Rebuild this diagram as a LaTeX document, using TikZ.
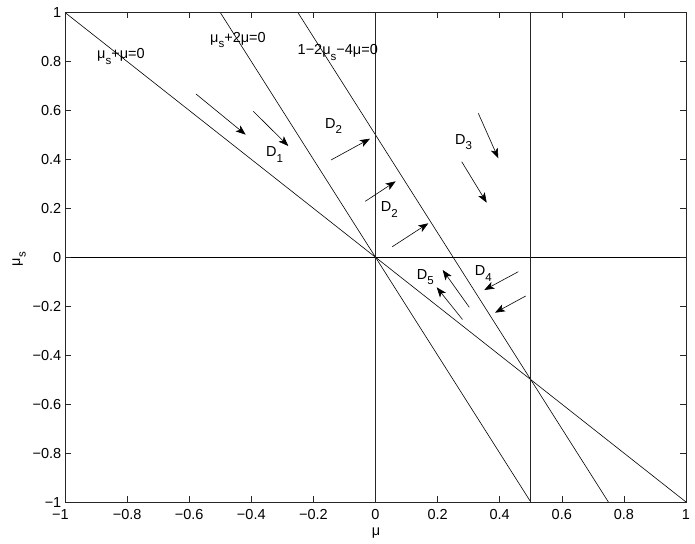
\documentclass[tikz,border=0pt]{standalone}
\usepackage{fontspec}
\setmainfont{Liberation Sans}
\usetikzlibrary{arrows.meta}
\newcommand\sbs[1]{\raisebox{-5.5pt}{\fontsize{11.5}{12}\selectfont #1}}
\begin{document}
\begin{tikzpicture}[x=1pt,y=-1pt,
  font=\fontsize{14.5}{17}\selectfont,
  lbl/.style={inner sep=0pt, anchor=base west},
  tlx/.style={inner sep=0pt, anchor=base},
  tly/.style={inner sep=0pt, anchor=base east},
  curve/.style={line width=0.6pt, black},
  flow/.style={line width=0.6pt, -{Stealth[length=10pt,width=7.5pt,inset=2.5pt]}},
  axisline/.style={line width=0.8pt, black!85},
  tick/.style={line width=0.6pt, black!85}]
\path[use as bounding box] (0,0) rectangle (695,543);
% data lines
\begin{scope}[shift={(375.5,257.25)}, x=310.5pt, y=244.75pt]
  \coordinate (L1a) at (-1,1);    \coordinate (L1b) at (1,-1);
  \coordinate (L2a) at (-0.5,1);  \coordinate (L2b) at (0.5,-1);
  \coordinate (L3a) at (-0.25,1); \coordinate (L3b) at (0.75,-1);
  \coordinate (V0a) at (0,1);     \coordinate (V0b) at (0,-1);
  \coordinate (V5a) at (0.5,1);   \coordinate (V5b) at (0.5,-1);
  \coordinate (H0a) at (-1,0);    \coordinate (H0b) at (1,0);
\end{scope}
\draw[curve] (L1a) -- (L1b);
\draw[curve] (L2a) -- (L2b);
\draw[curve] (L3a) -- (L3b);
\draw[curve, line width=0.8pt] (H0a) -- (H0b);
\draw[axisline] (V0a) -- (V0b);
\draw[axisline] (V5a) -- (V5b);
% axes box
\draw[axisline] (65,12.5) rectangle (686,502);
% ticks
\foreach \i in {0,...,10} {
  \pgfmathsetmacro\tx{65+62.1*\i}
  \pgfmathsetmacro\ty{12.5+48.95*\i}
  \draw[tick] (\tx,502) -- ++(0,-6);
  \draw[tick] (\tx,12.5) -- ++(0,6);
  \draw[tick] (65,\ty) -- ++(6,0);
  \draw[tick] (686,\ty) -- ++(-6,0);
}
% x tick labels
\foreach \i/\s in {1/−0.8,2/−0.6,3/−0.4,4/−0.2,5/0,6/0.2,7/0.4,8/0.6,9/0.8,10/1} {
  \pgfmathsetmacro\tx{65+62.1*\i}
  \node[tlx] (xl\i) at (\tx,519.5) {\s};
}
\node[tlx] (xl0) at (60.5,519.5) {−1};
% y tick labels
\foreach \i/\s in {0/1,1/0.8,2/0.6,3/0.4,4/0.2,5/0,6/−0.2,7/−0.4,8/−0.6,9/−0.8,10/−1} {
  \pgfmathsetmacro\ty{12.5+48.95*\i+5.2}
  \node[tly] (yl\i) at (61.5,\ty) {\s};
}
% axis labels
\node[tlx] (xlab) at (376,535) {μ};
\node[inner sep=0pt, rotate=90] (ylab) at (19,259) {μ\sbs{s}};
% curve labels
\node[lbl] (c1) at (97,59) {μ\sbs{s}+μ=0};
\node[lbl] (c2) at (210,42.5) {μ\sbs{s}+2μ=0};
\node[lbl] (c3) at (297.5,55) {1−2μ\sbs{s}−4μ=0};
% region labels
\node[lbl] (d1) at (266,156.7) {D\sbs{1}};
\node[lbl] (d2a) at (325,128) {D\sbs{2}};
\node[lbl] (d2b) at (380.7,211.7) {D\sbs{2}};
\node[lbl] (d3) at (455,144) {D\sbs{3}};
\node[lbl] (d4) at (474.7,275.7) {D\sbs{4}};
\node[lbl] (d5) at (416.7,279.3) {D\sbs{5}};
% flow arrows
\coordinate (a1s) at (196,94);      \coordinate (a1e) at (245.7,134.7);
\coordinate (a2s) at (253.3,111.3); \coordinate (a2e) at (288.3,146);
\coordinate (a3s) at (331,160);     \coordinate (a3e) at (370,138.7);
\coordinate (a4s) at (365.3,201.3); \coordinate (a4e) at (395.7,181.3);
\coordinate (a5s) at (392.3,246.7); \coordinate (a5e) at (428.3,223.3);
\coordinate (a6s) at (478.3,113.3); \coordinate (a6e) at (498.3,158.3);
\coordinate (a7s) at (461.7,161.7); \coordinate (a7e) at (486.7,202.7);
\coordinate (a8s) at (518.3,271.7); \coordinate (a8e) at (484.3,290);
\coordinate (a9s) at (525.7,296);   \coordinate (a9e) at (495,312.7);
\coordinate (a10s) at (469.3,307.3); \coordinate (a10e) at (442.7,270);
\coordinate (a11s) at (462.5,319.5); \coordinate (a11e) at (436.7,287.3);
\foreach \k in {1,...,11} { \draw[flow] (a\k s) -- (a\k e); }
\end{tikzpicture}
\end{document}
